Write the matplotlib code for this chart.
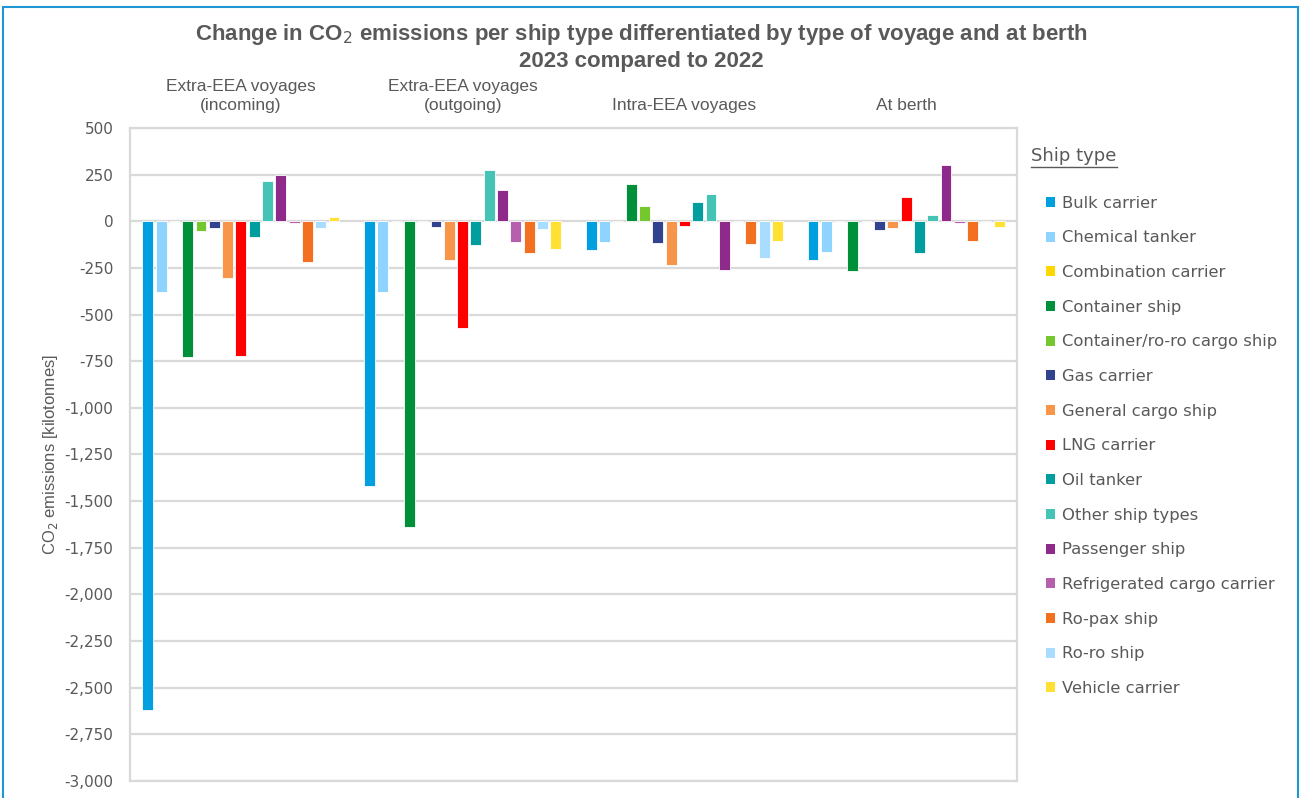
import numpy as np
import matplotlib
matplotlib.use("Agg")
import matplotlib.pyplot as plt
from matplotlib.patches import Patch, Rectangle
from matplotlib.lines import Line2D
from matplotlib.ticker import FuncFormatter

# ---------------------------
# Data (kilotonnes CO2, change 2023 vs 2022)
# ---------------------------
groups = ["Extra-EEA voyages\n(incoming)", "Extra-EEA voyages\n(outgoing)",
          "Intra-EEA voyages", "At berth"]

ship_types = ["Bulk carrier", "Chemical tanker", "Combination carrier",
              "Container ship", "Container/ro-ro cargo ship", "Gas carrier",
              "General cargo ship", "LNG carrier", "Oil tanker",
              "Other ship types", "Passenger ship", "Refrigerated cargo carrier",
              "Ro-pax ship", "Ro-ro ship", "Vehicle carrier"]

colors = ["#009FDF", "#8FD3FF", "#FFD700", "#00903A", "#75C72E", "#33428F",
          "#F7964A", "#FF0000", "#009E9E", "#45C4B5", "#8E2B8A", "#B55FAD",
          "#F37021", "#A9DDFF", "#FFE033"]

extra_in = [-2620, -380, 0, -730, -54, -37, -302, -720, -83, 214, 247, -10, -217, -36, 21]
extra_out = [-1420, -380, 0, -1640, 0, -30, -209, -572, -129, 273, 168, -111, -170, -41, -147]
intra = [-152, -111, 0, 198, 80, -118, -234, -23, 103, 146, -263, 0, -123, -198, -106]
berth = [-207, -163, 0, -268, 0, -46, -34, 129, -170, 36, 304, -11, -104, 0, -28]

values = np.array([extra_in, extra_out, intra, berth])

# ---------------------------
# Figure
# ---------------------------
plt.rcParams['axes.unicode_minus'] = False
text_col = "#595959"
grid_col = "#D9D9D9"
narrow = "Liberation Sans"

fig = plt.figure(figsize=(13.04, 7.98), dpi=100)
ax = fig.add_axes([130 / 1304, 1 - 781 / 798, (1017 - 130) / 1304, (781 - 128) / 798])

n_groups, n_types = len(groups), len(ship_types)
x = np.arange(n_groups)
bar_w = 13.3 / 221.75
for i, name in enumerate(ship_types):
    offs = (i - (n_types - 1) / 2) * bar_w
    ax.bar(x + offs, values[:, i], width=bar_w * 0.82, color=colors[i],
           edgecolor="white", linewidth=0.6, zorder=3, label=name)

ax.set_xlim(-0.5, n_groups - 0.5)
ax.set_ylim(-3000, 500)
ax.set_yticks(np.arange(-3000, 501, 250))
ax.yaxis.set_major_formatter(FuncFormatter(lambda v, p: f"{int(v):,}"))
ax.set_xticks([])
ax.tick_params(axis='y', length=0, pad=12, labelsize=11, labelcolor=text_col)
ax.grid(axis='y', color=grid_col, linewidth=1.6, zorder=0)
for s in ax.spines.values():
    s.set_color(grid_col)
    s.set_linewidth(1.6)

ax.set_ylabel("CO$_2$ emissions [kilotonnes]", fontsize=12, color=text_col,
              family=narrow, labelpad=3)

# group labels on top of the plot area
for gi, g in enumerate(groups):
    fig.text((130 + 221.75 * (gi + 0.5)) / 1304, 1 - 113 / 798, g, ha='center', va='bottom',
             fontsize=12.5, color=text_col, family=narrow, linespacing=1.35)

# title
fig.text(641 / 1304, 1 - 47 / 798,
         "Change in CO$_2$ emissions per ship type differentiated by type of voyage and at berth\n"
         "2023 compared to 2022",
         ha='center', va='center', fontsize=16, fontweight='bold', color=text_col,
         family=narrow, linespacing=1.3)

# legend
handles = [Patch(facecolor=c, edgecolor='none') for c in colors]
fig.legend(handles, ship_types, loc='upper left', bbox_to_anchor=(1031 / 1304, 1 - 181 / 798),
           frameon=False, fontsize=11.8, handlelength=0.55, handleheight=0.55,
           handletextpad=0.45, labelspacing=1.2, labelcolor=text_col)
fig.text(1031 / 1304, 1 - 156 / 798, "Ship type", ha='left', va='center',
         fontsize=13, color=text_col)
fig.add_artist(Line2D([1031 / 1304, 1117 / 1304], [1 - 167 / 798, 1 - 167 / 798],
                      color=text_col, linewidth=1))

# outer frame
fig.add_artist(Rectangle((3 / 1304, -0.05), 1295 / 1304, 1.05 - 7 / 798,
                         transform=fig.transFigure, fill=False,
                         edgecolor="#1F97D4", linewidth=1.5))

fig.savefig("out.png", dpi=100)
